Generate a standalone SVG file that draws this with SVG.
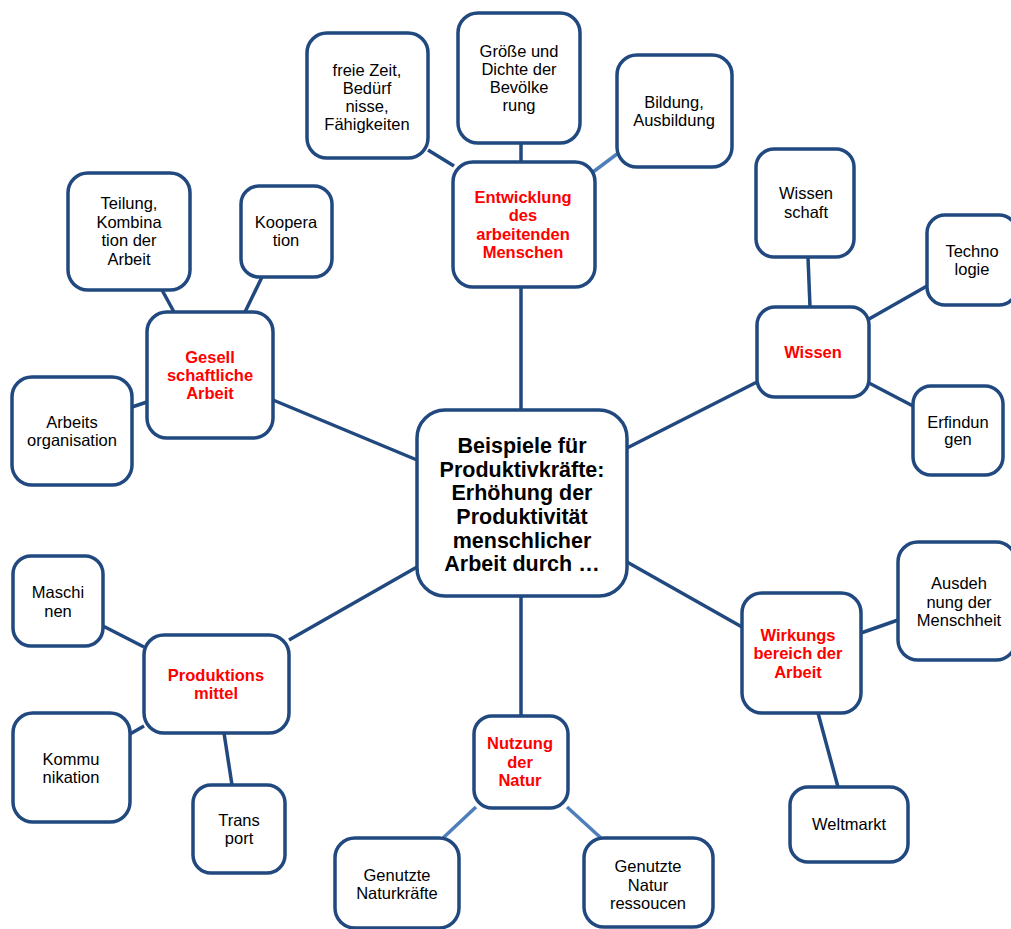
<svg xmlns="http://www.w3.org/2000/svg" width="1011" height="929" viewBox="0 0 1011 929">
<style>
.b{fill:#fff;stroke:#21497F;stroke-width:3.5}
.t{font-family:"Liberation Sans",Arial,sans-serif;font-size:16.5px;fill:#000;text-anchor:middle}
.r{font-family:"Liberation Sans",Arial,sans-serif;font-size:16.5px;font-weight:bold;fill:#FF0000;text-anchor:middle}
.c{font-family:"Liberation Sans",Arial,sans-serif;font-size:21.5px;font-weight:bold;fill:#000;text-anchor:middle}
.l{stroke:#21497F;stroke-width:3.5;fill:none}
.lb{stroke:#4F7FBA;stroke-width:3.5;fill:none}
</style>
<rect width="1011" height="929" fill="#fff"/>
<g id="connectors">
<line class="l" x1="521" y1="287" x2="521" y2="410"/>
<line class="l" x1="428" y1="150" x2="454" y2="166"/>
<line class="l" x1="521" y1="143" x2="521" y2="162"/>
<line class="lb" x1="593" y1="172" x2="617" y2="154"/>
<line class="l" x1="162" y1="290" x2="174" y2="312"/>
<line class="l" x1="262" y1="277" x2="245" y2="312"/>
<line class="l" x1="132" y1="407" x2="147" y2="402"/>
<line class="l" x1="273" y1="400" x2="417" y2="460"/>
<line class="l" x1="808" y1="257" x2="810" y2="307"/>
<line class="l" x1="927" y1="286" x2="869" y2="319"/>
<line class="l" x1="913" y1="406" x2="869" y2="383"/>
<line class="l" x1="627" y1="448" x2="757" y2="382"/>
<line class="l" x1="103" y1="626" x2="144" y2="647"/>
<line class="l" x1="130" y1="734" x2="144" y2="726"/>
<line class="l" x1="224" y1="733" x2="232" y2="785"/>
<line class="l" x1="289" y1="640" x2="417" y2="567"/>
<line class="l" x1="521" y1="596" x2="521" y2="716"/>
<line class="lb" x1="476" y1="807" x2="443" y2="838"/>
<line class="lb" x1="567" y1="807" x2="601" y2="838"/>
<line class="l" x1="627" y1="562" x2="742" y2="627"/>
<line class="l" x1="861" y1="633" x2="898" y2="620"/>
<line class="l" x1="818" y1="713" x2="838" y2="787"/>
</g>
<g id="center">
<rect class="b" x="417" y="410" width="210" height="186" rx="28"/>
<text class="c" x="522" y="453">Beispiele für</text>
<text class="c" x="522" y="477">Produktivkräfte:</text>
<text class="c" x="522" y="500">Erhöhung der</text>
<text class="c" x="522" y="524">Produktivität</text>
<text class="c" x="522" y="548">menschlicher</text>
<text class="c" x="522" y="571">Arbeit durch …</text>
</g>
<g id="entwicklung">
<rect class="b" x="453" y="162" width="142" height="125" rx="20"/>
<text class="r" x="523" y="203">Entwicklung</text>
<text class="r" x="523" y="221">des</text>
<text class="r" x="523" y="240">arbeitenden</text>
<text class="r" x="523" y="258">Menschen</text>
</g>
<g id="freiezeit">
<rect class="b" x="307" y="33" width="121" height="125" rx="20"/>
<text class="t" x="367" y="76">freie Zeit,</text>
<text class="t" x="367" y="94">Bedürf</text>
<text class="t" x="367" y="112">nisse,</text>
<text class="t" x="367" y="130">Fähigkeiten</text>
</g>
<g id="groesse">
<rect class="b" x="458" y="13" width="122" height="130" rx="20"/>
<text class="t" x="519" y="57">Größe und</text>
<text class="t" x="519" y="75">Dichte der</text>
<text class="t" x="519" y="93">Bevölke</text>
<text class="t" x="519" y="111">rung</text>
</g>
<g id="bildung">
<rect class="b" x="617" y="55" width="115" height="112" rx="20"/>
<text class="t" x="674" y="108">Bildung,</text>
<text class="t" x="674" y="126">Ausbildung</text>
</g>
<g id="gesellschaftlich">
<rect class="b" x="147" y="312" width="126" height="126" rx="20"/>
<text class="r" x="210" y="363">Gesell</text>
<text class="r" x="210" y="381">schaftliche</text>
<text class="r" x="210" y="399">Arbeit</text>
</g>
<g id="teilung">
<rect class="b" x="68" y="173" width="122" height="117" rx="20"/>
<text class="t" x="129" y="209">Teilung,</text>
<text class="t" x="129" y="228">Kombina</text>
<text class="t" x="129" y="246">tion der</text>
<text class="t" x="129" y="265">Arbeit</text>
</g>
<g id="kooperation">
<rect class="b" x="241" y="186" width="91" height="91" rx="18"/>
<text class="t" x="286" y="228">Koopera</text>
<text class="t" x="286" y="246">tion</text>
</g>
<g id="arbeitsorganisation">
<rect class="b" x="12" y="377" width="120" height="108" rx="20"/>
<text class="t" x="72" y="428">Arbeits</text>
<text class="t" x="72" y="446">organisation</text>
</g>
<g id="wissen">
<rect class="b" x="757" y="307" width="112" height="90" rx="18"/>
<text class="r" x="813" y="358">Wissen</text>
</g>
<g id="wissenschaft">
<rect class="b" x="756" y="149" width="98" height="108" rx="18"/>
<text class="t" x="806" y="199">Wissen</text>
<text class="t" x="806" y="218">schaft</text>
</g>
<g id="technologie">
<rect class="b" x="927" y="215" width="90" height="90" rx="18"/>
<text class="t" x="972" y="257">Techno</text>
<text class="t" x="972" y="275">logie</text>
</g>
<g id="erfindungen">
<rect class="b" x="913" y="386" width="90" height="89" rx="18"/>
<text class="t" x="958" y="428">Erfindun</text>
<text class="t" x="958" y="445">gen</text>
</g>
<g id="produktionsmittel">
<rect class="b" x="144" y="635" width="145" height="98" rx="20"/>
<text class="r" x="216" y="681">Produktions</text>
<text class="r" x="216" y="699">mittel</text>
</g>
<g id="maschinen">
<rect class="b" x="13" y="556" width="90" height="90" rx="18"/>
<text class="t" x="58" y="598">Maschi</text>
<text class="t" x="58" y="617">nen</text>
</g>
<g id="kommunikation">
<rect class="b" x="13" y="713" width="117" height="109" rx="20"/>
<text class="t" x="71" y="765">Kommu</text>
<text class="t" x="71" y="783">nikation</text>
</g>
<g id="transport">
<rect class="b" x="193" y="785" width="92" height="88" rx="18"/>
<text class="t" x="239" y="826">Trans</text>
<text class="t" x="239" y="844">port</text>
</g>
<g id="nutzung">
<rect class="b" x="474" y="716" width="94" height="92" rx="18"/>
<text class="r" x="520" y="749">Nutzung</text>
<text class="r" x="520" y="768">der</text>
<text class="r" x="520" y="786">Natur</text>
</g>
<g id="naturkraefte">
<rect class="b" x="335" y="838" width="124" height="90" rx="20"/>
<text class="t" x="397" y="881">Genutzte</text>
<text class="t" x="397" y="899">Naturkräfte</text>
</g>
<g id="naturressourcen">
<rect class="b" x="584" y="838" width="129" height="89" rx="20"/>
<text class="t" x="648" y="872">Genutzte</text>
<text class="t" x="648" y="891">Natur</text>
<text class="t" x="648" y="909">ressoucen</text>
</g>
<g id="wirkungsbereich">
<rect class="b" x="742" y="593" width="119" height="120" rx="20"/>
<text class="r" x="798" y="641">Wirkungs</text>
<text class="r" x="798" y="659">bereich der</text>
<text class="r" x="798" y="678">Arbeit</text>
</g>
<g id="ausdehnung">
<rect class="b" x="898" y="542" width="118" height="118" rx="20"/>
<text class="t" x="959" y="589">Ausdeh</text>
<text class="t" x="959" y="608">nung der</text>
<text class="t" x="959" y="626">Menschheit</text>
</g>
<g id="weltmarkt">
<rect class="b" x="790" y="787" width="118" height="75" rx="18"/>
<text class="t" x="849" y="830">Weltmarkt</text>
</g>
</svg>
